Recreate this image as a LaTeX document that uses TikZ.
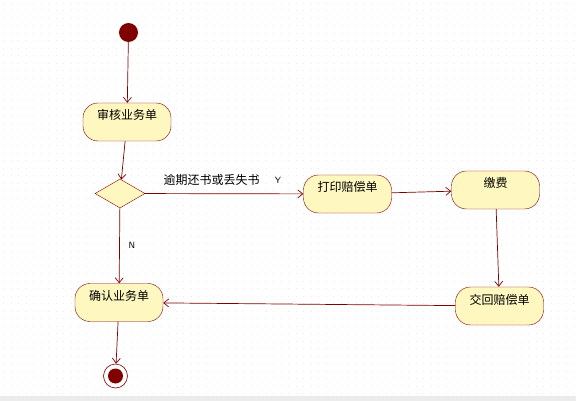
\documentclass[tikz,border=0pt]{standalone}
\usepackage{xcolor}
\usepackage{tikz}
\usetikzlibrary{arrows.meta,shapes.geometric}
\usepackage{fontspec}
\newfontfamily\cjk{Noto Sans CJK SC}
\definecolor{actred}{HTML}{800000}
\definecolor{actfill}{HTML}{FFF7C0}
\definecolor{actdot}{HTML}{EBEBEB}

\begin{document}
\begin{tikzpicture}[x=1pt,y=-1pt,
  act/.style={draw=actred,fill=actfill,rectangle,rounded corners=15pt,
    minimum width=88pt,minimum height=38pt,inner sep=2pt,
    text height=6pt,text depth=10pt,font=\cjk\fontsize{12}{14}\selectfont},
  decide/.style={draw=actred,fill=actfill,diamond,aspect=1.75,
    minimum width=50pt,minimum height=29pt,inner sep=0pt},
  flow/.style={actred,line width=0.7pt,-{Straight Barb[length=5pt,width=8pt]}},
  lbl/.style={font=\cjk\fontsize{12}{14}\selectfont,inner sep=1pt}]
  \useasboundingbox (0,0) rectangle (576,401);
  \fill[white] (0,0) rectangle (576,401);
  % dotted canvas
  \foreach \gx in {3,10.5,...,573}
    \foreach \gy in {3,10.5,...,393}
      \fill[actdot] (\gx,\gy) rectangle ++(1,1);
  \fill[gray!15] (0,396) rectangle (576,401);

  \node[circle,fill=actred,minimum size=19pt,inner sep=0pt] (start) at (128.5,32.5) {};
  \node[act] (audit) at (127,122) {审核业务单};
  \node[decide] (check) at (120,193.5) {};
  \node[act] (print) at (347.5,194) {打印赔偿单};
  \node[act] (pay) at (495.5,190) {缴费};
  \node[act] (back) at (499.5,306) {交回赔偿单};
  \node[act] (confirm) at (119,302.5) {确认业务单};
  \node[circle,draw=actred,fill=white,line width=0.6pt,minimum size=24pt,inner sep=0pt] (stop) at (115.5,376) {};
  \fill[actred] (stop) circle[radius=7.5pt];

  \draw[flow] (start) -- (audit);
  \draw[flow] (audit) -- (check);
  \draw[flow] (check) -- (print);
  \draw[flow] (print) -- (pay);
  \draw[flow] (pay) -- (back);
  \draw[flow] (back) -- (confirm);
  \draw[flow] (check) -- (confirm);
  \draw[flow] (confirm) -- (stop);

  \node[lbl] (late) at (211.5,180) {逾期还书或丢失书};
  \node[lbl,font=\sffamily\fontsize{9}{10}\selectfont] (yes) at (278,180) {Y};
  \node[lbl,font=\sffamily\fontsize{9}{10}\selectfont] (no) at (132,245) {N};
\end{tikzpicture}
\end{document}
